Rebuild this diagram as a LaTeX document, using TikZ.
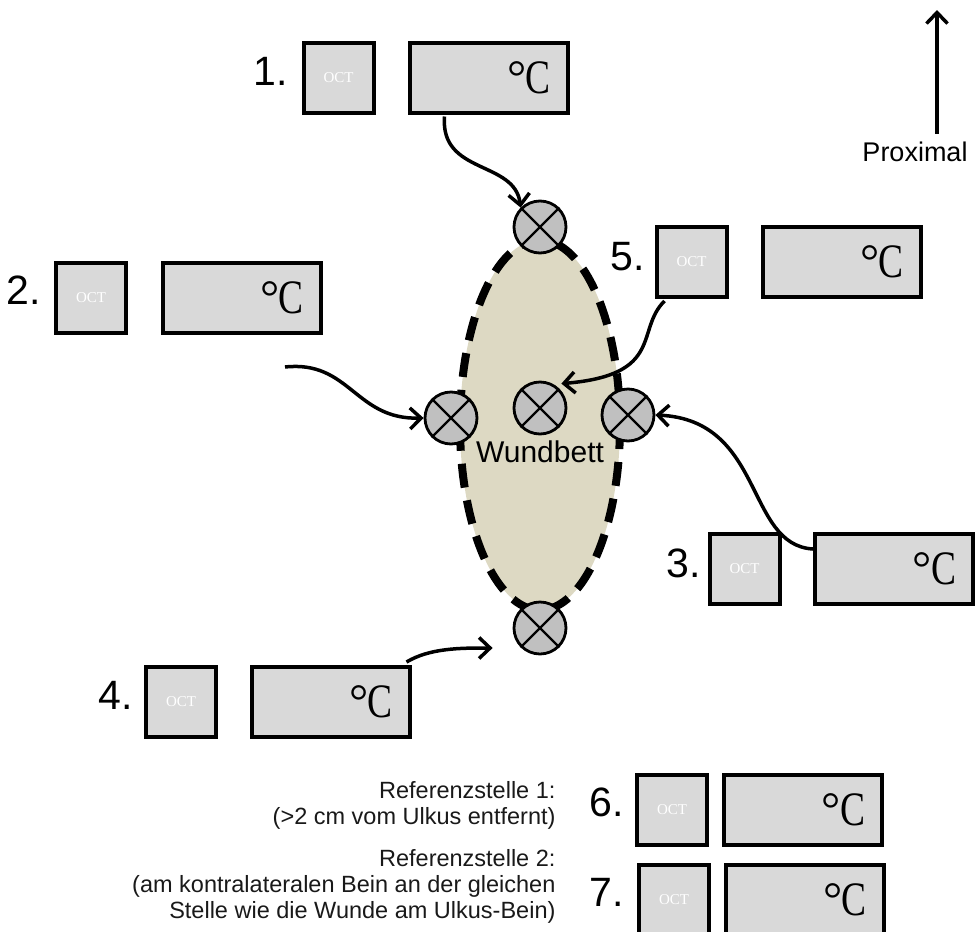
\documentclass[tikz,border=0pt]{standalone}
\usepackage{fontspec}
\setmainfont{Liberation Sans}
\newfontfamily\serifC{Liberation Serif}
\usetikzlibrary{arrows.meta,calc,shadows}
\definecolor{boxgray}{HTML}{D9D9D9}
\definecolor{dotgray}{HTML}{C0C0C0}
\definecolor{woundtan}{HTML}{DDD9C3}
\newcommand{\degC}{°\kern-1pt\scalebox{0.78}[1]{C}}
\tikzset{
  boxshadow/.style={drop shadow={opacity=0.2, shadow xshift=2pt, shadow yshift=-2pt}},
  octbox/.style={draw=black, line width=4pt, fill=boxgray, boxshadow, minimum width=70pt, minimum height=70pt, inner sep=0pt,
    font=\serifC\fontsize{15}{15}\selectfont, text=white},
  tempbox/.style={draw=black, line width=4pt, fill=boxgray, boxshadow, minimum height=70pt, text width=124pt, inner xsep=17pt, inner ysep=0pt,
    align=right, font=\serifC\fontsize{48}{48}\selectfont},
  numlab/.style={font=\fontsize{41}{41}\selectfont, anchor=center},
  probe/.style={circle, draw=black, line width=2.8pt, fill=dotgray, minimum size=52pt, inner sep=0pt},
  conn/.style={line width=3.5pt, -{Straight Barb[length=11pt,width=21pt,line width=3.5pt]}},
  reftext/.style={font=\fontsize{23.5}{26}\selectfont, align=right, anchor=east, text=black!90}
}
\newcommand{\crossit}[1]{\draw[line width=2.4pt] (#1.45)--(#1.225) (#1.135)--(#1.315);}
\begin{document}
\begin{tikzpicture}[x=1pt,y=-1pt]
\useasboundingbox (0,0) rectangle (975,932);
% wound bed
\draw[fill=woundtan, line width=8pt, dash pattern=on 24pt off 13pt] (540,425) ellipse [x radius=80, y radius=185];
\node[font=\fontsize{30}{30}\selectfont] (wb) at (540,452) {Wundbett};
% probes
\node[probe] (p1) at (540,227) {}; \crossit{p1}
\node[probe] (p2) at (451,418) {}; \crossit{p2}
\node[probe] (p5) at (540,408) {}; \crossit{p5}
\node[probe] (p3) at (628,415) {}; \crossit{p3}
\node[probe] (p4) at (540,628) {}; \crossit{p4}
% boxes
\node[octbox] (o1) at (338.5,77.5) {OCT};
\node[tempbox] (t1) at (488.5,77.5) {\degC};
\node[numlab] (n1) at (271,71) {1.};
\node[octbox] (o2) at (91,297.5) {OCT};
\node[tempbox] (t2) at (241.5,297.5) {\degC};
\node[numlab] (n2) at (24,290) {2.};
\node[octbox] (o5) at (691.5,262) {OCT};
\node[tempbox] (t5) at (841.5,262) {\degC};
\node[numlab] (n5) at (628,257) {5.};
\node[octbox] (o3) at (744.5,569) {OCT};
\node[tempbox] (t3) at (894,569) {\degC};
\node[numlab] (n3) at (684,563) {3.};
\node[octbox] (o4) at (181,702) {OCT};
\node[tempbox] (t4) at (330.5,702) {\degC};
\node[numlab] (n4) at (116,695) {4.};
\node[octbox] (o6) at (672,810) {OCT};
\node[tempbox] (t6) at (803,810) {\degC};
\node[numlab] (n6) at (607,802) {6.};
\node[octbox] (o7) at (674,900) {OCT};
\node[tempbox] (t7) at (804.5,900) {\degC};
\node[numlab] (n7) at (607,892) {7.};
% connectors
\coordinate (s1) at ($(t1.south west)+(37,2)$);
\draw[conn] (s1) .. controls (440,175) and (515,160) .. (p1.north west);
\coordinate (s2) at (285,367);
\draw[conn] (s2) .. controls (350,360) and (355,420) .. (p2.west);
\coordinate (s5) at ($(o5.south west)+(10,2)$);
\draw[conn] (s5) .. controls (635,330) and (665,375) .. ($(p5.north east)+(2,-5)$);
\coordinate (s3) at ($(t3.west)+(0,-20)$);
\draw[conn] (s3) .. controls (745,545) and (765,420) .. (p3.east);
\coordinate (s4) at ($(t4.north east)+(-5,-3)$);
\draw[conn] (s4) .. controls (430,648) and (460,648) .. ($(p4.west)+(-20,20)$);
% proximal
\node[font=\fontsize{27}{27}\selectfont] (prox) at (915,152) {Proximal};
\coordinate (ptop) at (937,10);
\draw[conn] ($(prox.north)+(22,-5)$) -- (ptop);
% reference text
\node[reftext] (r1) at (559,805) {Referenzstelle 1:\\(>2 cm vom Ulkus entfernt)};
\node[reftext] (r2) at (559,886) {Referenzstelle 2:\\(am kontralateralen Bein an der gleichen\\Stelle wie die Wunde am Ulkus-Bein)};
\end{tikzpicture}
\end{document}
